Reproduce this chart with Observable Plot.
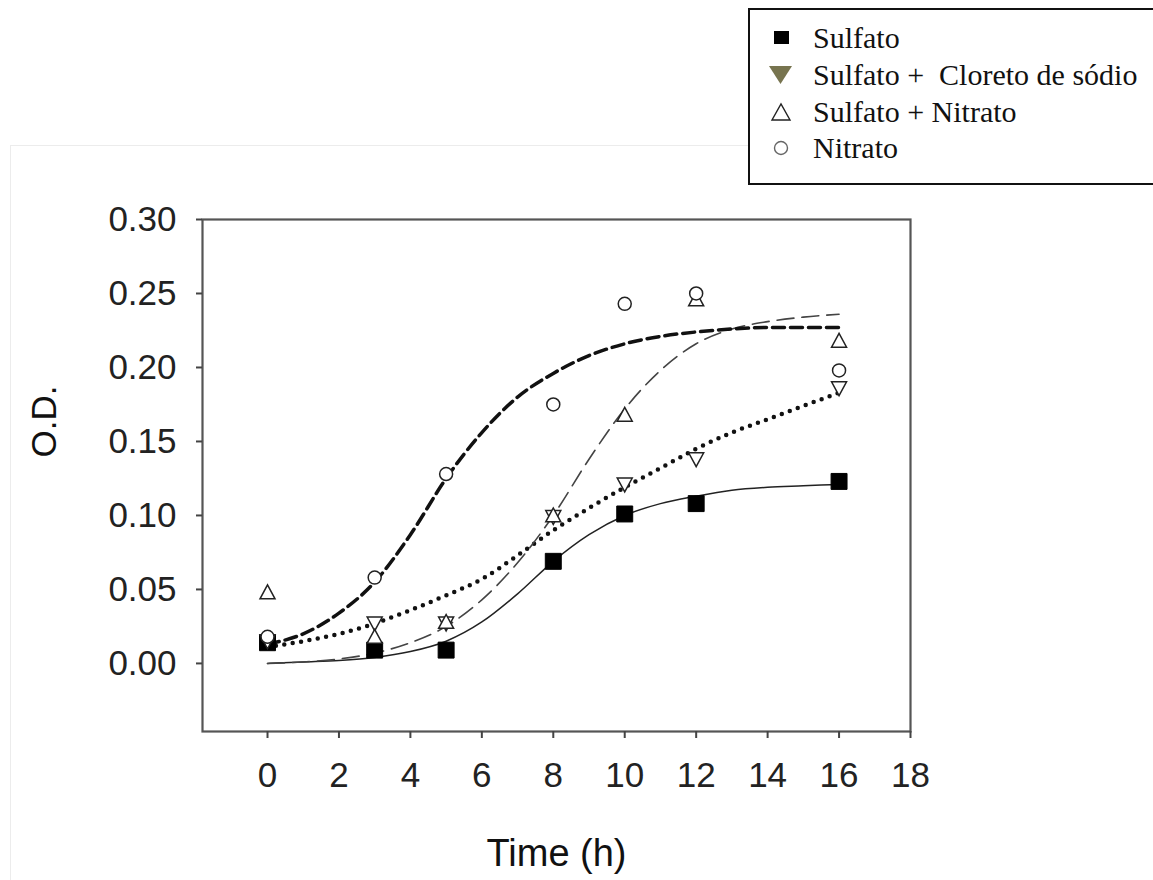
<!DOCTYPE html>
<html><head><meta charset="utf-8">
<script src="https://cdn.jsdelivr.net/npm/d3@7"></script>
<script src="https://cdn.jsdelivr.net/npm/@observablehq/plot@0.6"></script>
<style>
body{margin:0;background:#fff;}
#wrap{position:relative;width:1153px;height:880px;overflow:hidden;background:#fff;}
#outer{position:absolute;left:10px;top:145px;width:1200px;height:800px;border:1px solid #ececec;}
#legend{position:absolute;left:748px;top:8px;width:403px;height:173px;border:2px solid #111;background:#fff;font-family:"Liberation Serif","Times New Roman",serif;font-size:30px;color:#111;}
.row{position:absolute;left:0;width:400px;height:36px;line-height:36px;white-space:pre;}
.row svg{position:absolute;left:16px;top:6px;}
.row span{position:absolute;left:63px;top:0;}
#chart{position:absolute;left:0;top:190px;}
</style>
</head><body>
<div id="wrap">
  <div id="outer"></div>
  <div id="chart"></div>
  <div id="legend"></div>
</div>
<script>
// ---- data ----
const time = [0, 3, 5, 8, 10, 12, 16];
const sulfato        = [0.014, 0.009, 0.009, 0.069, 0.101, 0.108, 0.123];
const sulfatoCloreto = [0.015, 0.027, 0.027, 0.099, 0.121, 0.138, 0.186];
const sulfatoNitrato = [0.048, 0.018, 0.028, 0.100, 0.168, 0.246, 0.218];
const nitrato        = [0.018, 0.058, 0.128, 0.175, 0.243, 0.250, 0.198];

const fitTime = [0, 1, 2, 3, 4, 5, 6, 7, 8, 9, 10, 11, 12, 13, 14, 15, 16];
const fitSulfato        = [0.000, 0.001, 0.002, 0.004, 0.008, 0.015, 0.028, 0.047, 0.069, 0.087, 0.100, 0.108, 0.113, 0.117, 0.119, 0.120, 0.121];
const fitSulfatoCloreto = [0.011, 0.015, 0.020, 0.027, 0.036, 0.046, 0.057, 0.073, 0.090, 0.105, 0.119, 0.132, 0.145, 0.156, 0.165, 0.174, 0.183];
const fitSulfatoNitrato = [0.000, 0.001, 0.003, 0.007, 0.014, 0.025, 0.043, 0.068, 0.100, 0.138, 0.172, 0.198, 0.216, 0.226, 0.231, 0.234, 0.236];
const fitNitrato        = [0.013, 0.020, 0.034, 0.055, 0.087, 0.125, 0.156, 0.180, 0.196, 0.208, 0.216, 0.221, 0.224, 0.226, 0.227, 0.227, 0.227];

const seriesNames = ["Sulfato", "Sulfato +  Cloreto de sódio", "Sulfato + Nitrato", "Nitrato"];
const xTicks = [0, 2, 4, 6, 8, 10, 12, 14, 16, 18];
const yTicks = [0.00, 0.05, 0.10, 0.15, 0.20, 0.25, 0.30];
const xLabel = "Time (h)";
const yLabel = "O.D.";

// ---- tables ----
const pts = (arr) => time.map((t, i) => ({t, v: arr[i]}));
const fit = (arr) => fitTime.map((t, i) => ({t, v: arr[i]}));

const triDown = {draw(ctx, size) {const r = Math.sqrt(size / Math.PI); ctx.moveTo(-r, -0.85 * r); ctx.lineTo(r, -0.85 * r); ctx.lineTo(0, r); ctx.closePath();}};
const triUp = {draw(ctx, size) {const r = Math.sqrt(size / Math.PI); ctx.moveTo(-r, 0.85 * r); ctx.lineTo(r, 0.85 * r); ctx.lineTo(0, -r); ctx.closePath();}};

const font = "'Liberation Sans', Arial, Helvetica, sans-serif";

const chart = Plot.plot({
  width: 1153,
  height: 690,
  marginLeft: 202,
  marginRight: 243,
  marginTop: 29,
  marginBottom: 149,
  style: {fontFamily: font, background: "transparent", color: "#222"},
  x: {domain: [-1.82, 18]},
  y: {domain: [-0.046, 0.30]},
  marks: [
    Plot.line(fit(fitSulfato), {x: "t", y: "v", curve: "monotone-x", stroke: "#222", strokeWidth: 1.5}),
    Plot.line(fit(fitSulfatoCloreto), {x: "t", y: "v", curve: "monotone-x", stroke: "#111", strokeWidth: 4.5, strokeDasharray: "0,8.5", strokeLinecap: "round"}),
    Plot.line(fit(fitSulfatoNitrato), {x: "t", y: "v", curve: "monotone-x", stroke: "#444", strokeWidth: 1.6, strokeDasharray: "17,8"}),
    Plot.line(fit(fitNitrato), {x: "t", y: "v", curve: "monotone-x", stroke: "#111", strokeWidth: 3.5, strokeDasharray: "12,6"}),
    Plot.dot(pts(sulfato), {x: "t", y: "v", symbol: "square", r: 9, fill: "#000", stroke: "#000", strokeWidth: 1}),
    Plot.dot(pts(sulfatoCloreto), {x: "t", y: "v", symbol: triDown, r: 7.5, fill: "#fff", stroke: "#222", strokeWidth: 1.5}),
    Plot.dot(pts(sulfatoNitrato), {x: "t", y: "v", symbol: triUp, r: 7.5, fill: "#fff", stroke: "#222", strokeWidth: 1.5}),
    Plot.dot(pts(nitrato), {x: "t", y: "v", r: 6.5, fill: "#fff", stroke: "#222", strokeWidth: 1.5}),
    Plot.frame({stroke: "#555", strokeWidth: 2.2}),
    Plot.axisX({ticks: xTicks, tickSize: 7, tickPadding: 24, fontSize: 35, label: null, stroke: "#444", strokeWidth: 2, fill: "#222"}),
    Plot.axisY({ticks: yTicks, tickFormat: d3.format(".2f"), tickSize: 6, tickPadding: 20, fontSize: 35, label: null, stroke: "#444", strokeWidth: 2, fill: "#222"}),
    Plot.text([xLabel], {text: d => d, frameAnchor: "bottom", textAnchor: "middle", dx: 0, dy: 134, fontSize: 38, fill: "#111"}),
    Plot.text([yLabel], {text: d => d, frameAnchor: "left", textAnchor: "middle", rotate: -90, dx: -158, dy: -54, fontSize: 35, fill: "#111"})
  ]
});
document.getElementById("chart").appendChild(chart);

// ---- legend ----
const legendSymbols = [
  '<svg width="30" height="24"><rect x="8" y="5" width="15" height="13" fill="#000"/></svg>',
  '<svg width="30" height="24"><path d="M3,3 L26,3 L14.5,21 Z" fill="#77744f"/></svg>',
  '<svg width="30" height="24"><path d="M6,20 L24,20 L15,4 Z" fill="none" stroke="#222" stroke-width="1.4"/></svg>',
  '<svg width="30" height="24"><circle cx="15" cy="12" r="6.5" fill="none" stroke="#666" stroke-width="1.4"/></svg>'
];
const rowTops = [10, 47, 84, 120];
const legend = document.getElementById("legend");
seriesNames.forEach((name, i) => {
  const row = document.createElement("div");
  row.className = "row";
  row.style.top = rowTops[i] + "px";
  row.innerHTML = legendSymbols[i];
  const span = document.createElement("span");
  span.textContent = name;
  row.appendChild(span);
  legend.appendChild(row);
});
</script>
</body></html>
